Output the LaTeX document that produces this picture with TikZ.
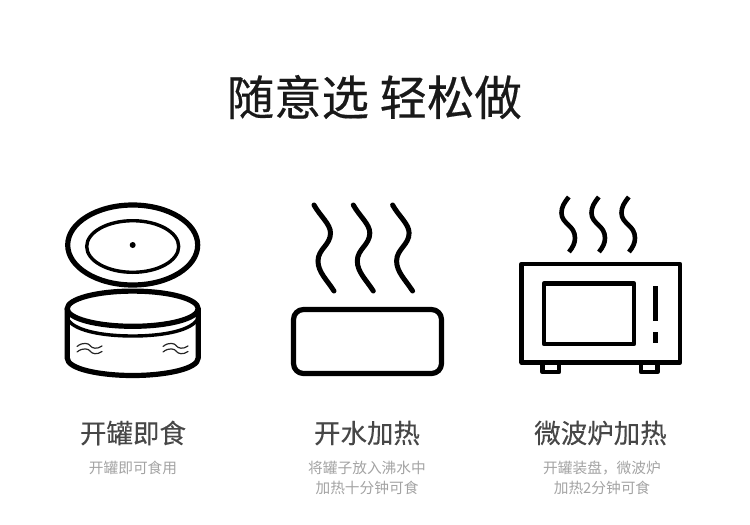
\documentclass[tikz,border=0pt]{standalone}
\usepackage{fontspec}
\setmainfont{Noto Sans CJK SC}
\newfontfamily\titlecjk[FakeBold=0.35]{Noto Sans CJK SC}
\newfontfamily\headcjk[FakeBold=0.2]{Noto Sans CJK SC}
\tikzset{
 titletext/.style={text=black!90,inner sep=0pt,font=\titlecjk\fontsize{47.4}{50}\selectfont},
 headtext/.style={text=black!72,inner sep=0pt,font=\headcjk\fontsize{26.5}{30}\selectfont},
 subtext/.style={text=black!36,inner sep=0pt,align=center,font=\fontsize{14.7}{20}\selectfont},
 heavy/.style={draw=black,line width=5.2pt},
 ovenline/.style={draw=black,line width=4.7pt},
 medium/.style={draw=black,line width=3.4pt},
 thin wave/.style={draw=black!85,line width=1.2pt,line cap=round},
 steamline/.style={draw=black,line width=5pt,line cap=round},
}
\begin{document}
\begin{tikzpicture}[x=1pt,y=-1pt]
\useasboundingbox (0,0) rectangle (750,525);
\node[titletext] (title) at (374.3,97) {随意选 轻松做};
% can
\draw[heavy] (132.7,245) ellipse [x radius=65,y radius=40];
\draw[medium] (132.7,246.5) ellipse [x radius=46,y radius=25.8];
\fill (132.7,245) circle [radius=3];
\draw[heavy,line join=round] (67.2,309) -- (67.2,358) .. controls (67.2,369) and (100,375.5) .. (132.7,375.5) .. controls (165,375.5) and (198.2,369) .. (198.2,358) -- (198.2,309);
\draw[medium] (67.2,318) .. controls (72,330) and (100,336) .. (132.7,336) .. controls (165,336) and (193,330) .. (198.2,318);
\draw[heavy,fill=white] (132.7,308.7) ellipse [x radius=65.5,y radius=17.6];
\foreach \xx in {77,163}{
 \foreach \yy in {346.5,352}{
  \draw[thin wave] (\xx,\yy) .. controls (\xx+6,\yy-5) and (\xx+12,\yy-3) .. (\xx+13,\yy-1) .. controls (\xx+15,\yy+2) and (\xx+20,\yy+3) .. (\xx+25,\yy-0.5);
 }}
% pot
\foreach \dx in {0,39.3,78.6}{
 \draw[steamline] (314+\dx,205) .. controls (320+\dx,216) and (330.5+\dx,224) .. (330.5+\dx,233) .. controls (330.5+\dx,245) and (318+\dx,249) .. (318+\dx,261) .. controls (318+\dx,272) and (327+\dx,280) .. (334+\dx,291);
}
\draw[heavy,rounded corners=10pt] (293.5,309.5) rectangle (441.5,373.5);
% microwave
\foreach \dx in {0,30,60}{
 \draw[draw=black,line width=4.6pt] (568.8+\dx,197) .. controls (564+\dx,203) and (561.5+\dx,207) .. (561.5+\dx,213) .. controls (561.5+\dx,224) and (575+\dx,225) .. (575+\dx,238) .. controls (575+\dx,243) and (573+\dx,247) .. (569+\dx,252);
}
\draw[ovenline,line join=round] (542.5,362) -- (542.5,372) -- (559,372) -- (559,362);
\draw[ovenline,line join=round] (641,362) -- (641,372) -- (657.5,372) -- (657.5,362);
\draw[ovenline,line join=round,fill=white] (521.8,264) rectangle (680,362.5);
\draw[ovenline,line join=round] (544,283.5) rectangle (634,344);
\fill (652.5,286) rectangle (657.5,321);
\fill (652.5,331.5) rectangle (657.5,342.5);
% labels
\node[headtext] (h1) at (133,433) {开罐即食};
\node[headtext] (h2) at (367,433) {开水加热};
\node[headtext] (h3) at (600.5,433) {微波炉加热};
\node[subtext] (s1) at (133,467.5) {开罐即可食用};
\node[subtext] (s2) at (367,477.5) {将罐子放入沸水中\\加热十分钟可食};
\node[subtext] (s3) at (602,477.5) {开罐装盘，微波炉\\加热2分钟可食};
\end{tikzpicture}
\end{document}
